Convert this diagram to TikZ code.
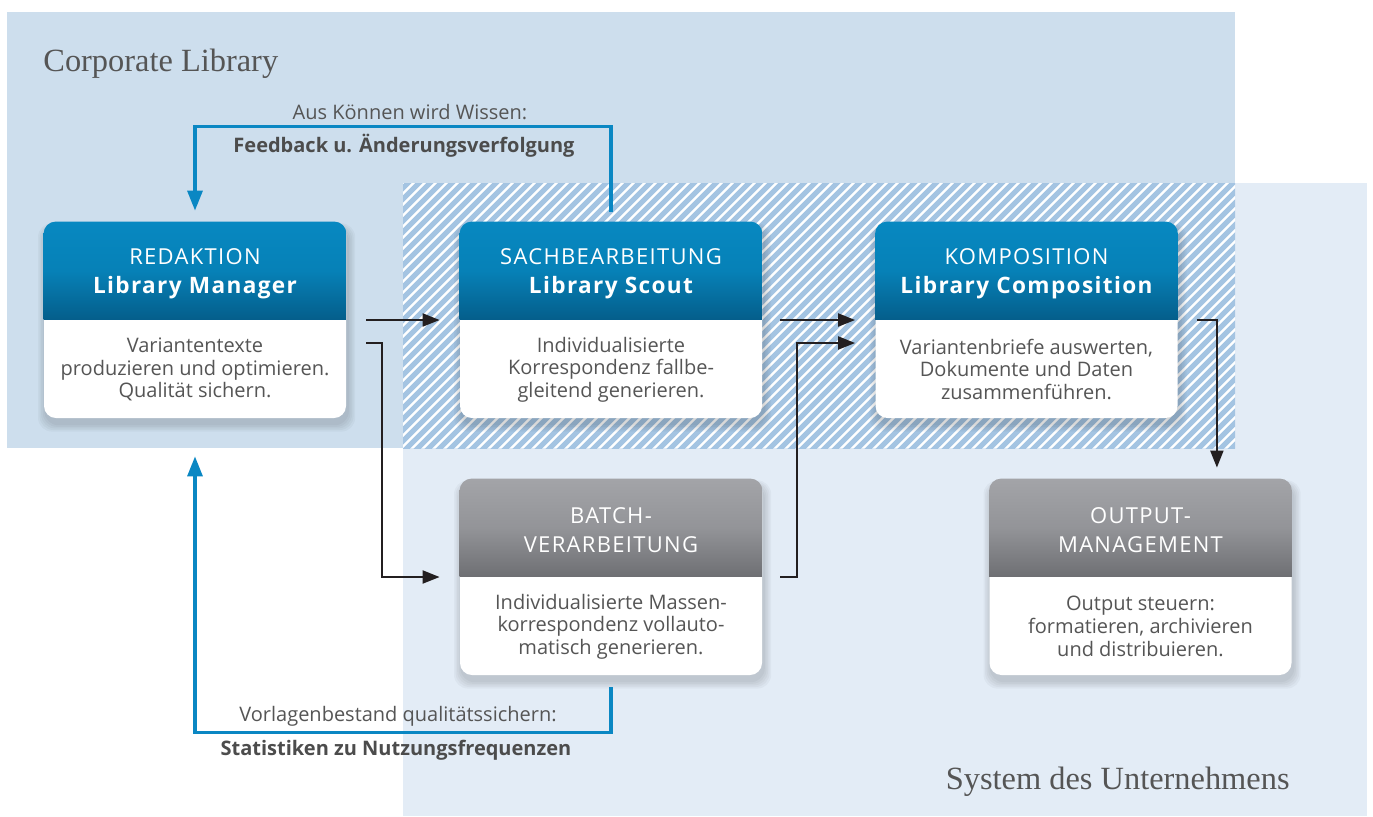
\documentclass[tikz,border=0pt]{standalone}
\usepackage{fontspec}
\setmainfont{Open Sans}
\newfontfamily\titlefont{Liberation Serif}
\newfontfamily\hdreg[LetterSpace=6]{Open Sans}
\newfontfamily\hdbold[LetterSpace=6]{Open Sans}
\usetikzlibrary{arrows.meta}
\definecolor{corp}{HTML}{CDDEED}
\definecolor{sys}{HTML}{E3ECF6}
\definecolor{hatchc}{HTML}{A4C4E2}
\definecolor{hbA}{HTML}{0788C1}
\definecolor{hbM}{HTML}{0681B7}
\definecolor{hbB}{HTML}{055E8B}
\definecolor{hgA}{HTML}{A3A4A8}
\definecolor{hgM}{HTML}{939498}
\definecolor{hgB}{HTML}{6E6F73}
\definecolor{lineblue}{HTML}{0A87C3}
\definecolor{arrowblack}{HTML}{231F20}
\definecolor{txtgray}{HTML}{555555}
\pgfdeclarelayer{back}
\pgfdeclarelayer{shadow}
\pgfsetlayers{back,shadow,main}
\tikzset{
  boxbase/.style={rectangle, rounded corners=6pt, fill=white, minimum width=151pt, minimum height=98pt, inner sep=0pt},
  blueshade/.style={top color=hbA, bottom color=hbB, middle color=hbM},
  grayshade/.style={top color=hgA, bottom color=hgB, middle color=hgM},
  hdtext/.style={text=white, align=center, inner sep=0pt, font=\hdreg\fontsize{11}{14.5}\selectfont},
  bodytext/.style={text=txtgray, align=center, inner sep=0pt, font=\fontsize{10}{11.3}\selectfont},
  lbl/.style={text=txtgray, inner sep=0pt, font=\fontsize{10}{12}\selectfont},
  lblbold/.style={text=txtgray!90!black, inner sep=0pt, font=\bfseries\fontsize{10}{12}\selectfont},
  titletext/.style={text=txtgray, inner sep=0pt, font=\titlefont\fontsize{16.2}{19}\selectfont},
  blk/.style={draw=arrowblack, line width=1pt, -{Triangle[length=8.5pt,width=6.5pt]}},
  bluearrow/.style={draw=lineblue, line width=1.6pt, -{Triangle[length=10pt,width=7.5pt]}}
}
\newcommand\procbox[6]{%
  \node[boxbase] (#1) at (#2,#3) {};
  \begin{pgfonlayer}{shadow}
    \foreach \s in {0.4,1.2,...,4.4}
      \fill[black, opacity=0.03, rounded corners=7pt]
        ([xshift={0.8pt-\s pt}, yshift={-3pt+0.6*\s pt}]#1.north west) rectangle
        ([xshift={0.8pt+\s pt}, yshift={-3pt-\s pt}]#1.south east);
  \end{pgfonlayer}
  \begin{scope}
    \clip[rounded corners=6pt] (#1.north west) rectangle (#1.south east);
    \shade[#4] (#1.north west) rectangle ([yshift=-49pt]#1.north east);
  \end{scope}
  \node[hdtext] (#1-h) at ([yshift=-26pt]#1.north) {#5};
  \node[bodytext] (#1-b) at ([yshift=24.5pt]#1.south) {#6};
}
\begin{document}
\begin{tikzpicture}[x=0.5pt, y=-0.5pt]
\useasboundingbox (0,0) rectangle (1373,816);
\begin{pgfonlayer}{back}
  \fill[white] (0,0) rectangle (1373,816);
  \fill[corp] (7,12) rectangle (1235,448);
  \fill[sys] (403,183) rectangle (1367,816);
  \begin{scope}
    \clip (403,183) rectangle (1235,448);
    \fill[white] (403,183) rectangle (1235,448);
    \foreach \k in {0,...,100}
      \draw[hatchc, line width=2.5pt] ({120+\k*11},460) -- ++(290,-290);
  \end{scope}
\end{pgfonlayer}

\node[titletext, anchor=base west] (corptitle) at (43,71) {Corporate Library};
\node[titletext, anchor=base east] (systitle) at (1290,789) {System des Unternehmens};

\procbox{red}{195}{320}{blueshade}{REDAKTION\\{\hdbold\bfseries\fontsize{11.3}{14.5}\selectfont Library Manager}}{Variantentexte\\produzieren und optimieren.\\Qualität sichern.}
\procbox{sach}{611}{320}{blueshade}{SACHBEARBEITUNG\\{\hdbold\bfseries\fontsize{11.3}{14.5}\selectfont Library Scout}}{Individualisierte\\Korrespondenz fallbe-\\gleitend generieren.}
\procbox{komp}{1026.5}{320}{blueshade}{KOMPOSITION\\{\hdbold\bfseries\fontsize{11.3}{14.5}\selectfont Library Composition}}{Variantenbriefe auswerten,\\Dokumente und Daten\\zusammenführen.}
\procbox{batch}{611}{577}{grayshade}{BATCH-\\VERARBEITUNG}{Individualisierte Massen-\\korrespondenz vollauto-\\matisch generieren.}
\procbox{out}{1140.5}{577}{grayshade}{OUTPUT-\\MANAGEMENT}{Output steuern:\\formatieren, archivieren\\und distribuieren.}

% labels
\node[lbl] (fb1) at (410,112) {Aus Können wird Wissen:};
\node[lblbold] (fb2) at (404,146) {Feedback u. Änderungsverfolgung};
\node[lbl] (st1) at (398,716) {Vorlagenbestand qualitätssichern:};
\node[lblbold] (st2) at (396,750) {Statistiken zu Nutzungsfrequenzen};

% blue feedback connectors
\draw[bluearrow] ([yshift=5pt]sach.north) -- ++(0,-85) -| ([yshift=5.5pt]red.north);
\draw[bluearrow] ([yshift=-6pt]batch.south) -- ++(0,45) -| ([yshift=-19pt]red.south);

% black connectors
\draw[blk] ([xshift=10pt]red.east) -- ([xshift=-10pt]sach.west);
\draw[blk] ([xshift=10pt,yshift=-11.5pt]red.east) -- ++(16,0) |- ([xshift=-10pt]batch.west);
\draw[blk] ([xshift=9pt]sach.east) -- ([xshift=-10pt]komp.west);
\draw[blk] ([xshift=9pt]batch.east) -- ++(17,0) |- ([xshift=-10pt,yshift=-11.5pt]komp.west);
\draw[blk] ([xshift=9.5pt]komp.east) -| ([xshift=-37.5pt,yshift=5.5pt]out.north east);
\end{tikzpicture}
\end{document}
